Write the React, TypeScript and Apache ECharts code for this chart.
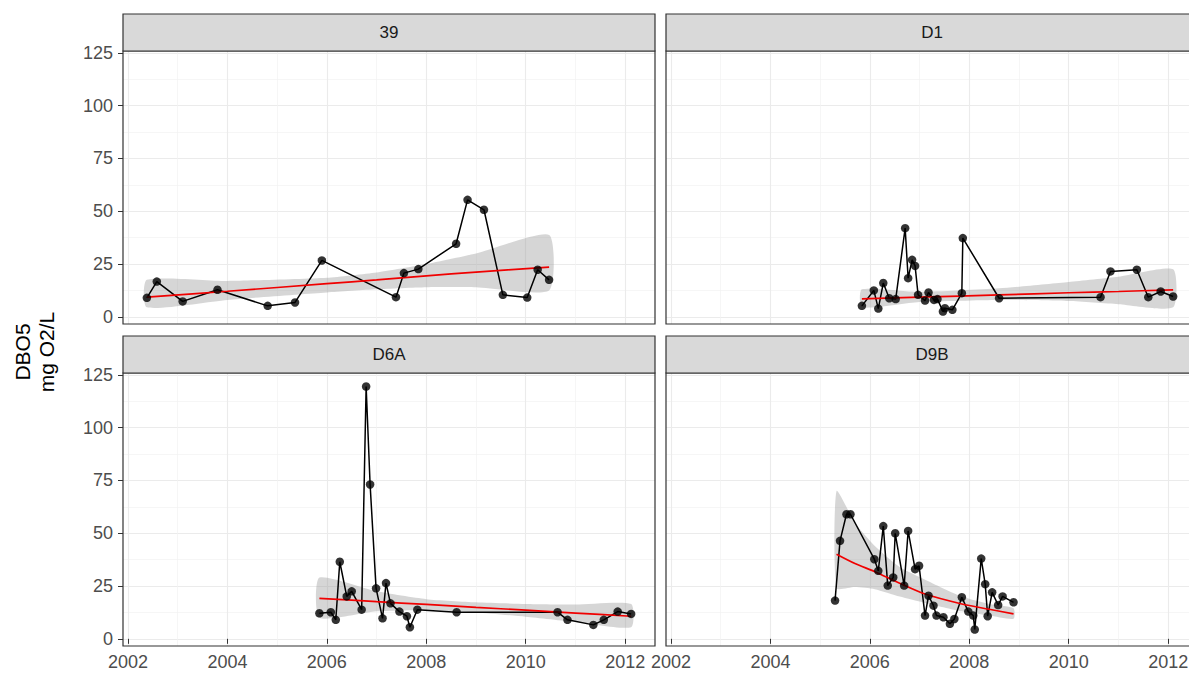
import React, { useEffect, useRef } from "react";
import * as echarts from "echarts";

// Facet titles (sampling stations)
const stations = ["39", "D1", "D6A", "D9B"];
const yearTicks = [2002, 2004, 2006, 2008, 2010, 2012];
const dboTicks = [0, 25, 50, 75, 100, 125];

// Station 39: observations (decimal year, DBO5 mg O2/L)
const year39 = [2002.38, 2002.58, 2003.1, 2003.8, 2004.81, 2005.36, 2005.9, 2007.39, 2007.55, 2007.84, 2008.6, 2008.83, 2009.16, 2009.54, 2010.03, 2010.24, 2010.47];
const dbo39 = [9, 16.7, 7.3, 12.8, 5.2, 6.8, 26.7, 9.3, 20.7, 22.6, 34.6, 55.4, 50.7, 10.4, 9.1, 22.3, 17.5];

// Station D1
const yearD1 = [2005.84, 2006.08, 2006.17, 2006.27, 2006.39, 2006.52, 2006.71, 2006.77, 2006.85, 2006.91, 2006.97, 2007.11, 2007.18, 2007.29, 2007.36, 2007.47, 2007.51, 2007.66, 2007.85, 2007.87, 2008.6, 2010.64, 2010.84, 2011.37, 2011.6, 2011.85, 2012.1];
const dboD1 = [5.2, 12.5, 3.9, 16, 8.8, 8.4, 42, 18.3, 27, 24.1, 10.4, 7.7, 11.5, 8, 8.4, 2.5, 4.1, 3.3, 11.2, 37.3, 8.8, 9.3, 21.5, 22.3, 9.3, 12, 9.6];

// Station D6A
const yearD6A = [2005.85, 2006.08, 2006.18, 2006.26, 2006.4, 2006.5, 2006.7, 2006.79, 2006.87, 2006.99, 2007.12, 2007.19, 2007.28, 2007.46, 2007.61, 2007.67, 2007.82, 2008.61, 2010.64, 2010.84, 2011.36, 2011.57, 2011.85, 2012.12];
const dboD6A = [12.1, 12.6, 9, 36.5, 20.1, 22.5, 13.8, 119.5, 73.1, 23.9, 9.7, 26.4, 16.8, 12.9, 10.7, 5.5, 13.8, 12.6, 12.6, 9, 6.6, 9, 12.9, 11.8];

// Station D9B
const yearD9B = [2005.3, 2005.4, 2005.53, 2005.61, 2006.09, 2006.17, 2006.27, 2006.36, 2006.47, 2006.51, 2006.69, 2006.77, 2006.91, 2006.99, 2007.11, 2007.18, 2007.28, 2007.34, 2007.48, 2007.61, 2007.7, 2007.85, 2007.98, 2008.08, 2008.11, 2008.24, 2008.32, 2008.37, 2008.46, 2008.58, 2008.67, 2008.89];
const dboD9B = [18.1, 46.4, 59, 59, 37.7, 32.2, 53.4, 25.2, 29.1, 50, 25.2, 51.1, 33, 34.6, 11, 20.4, 15.7, 11, 10.2, 7.1, 9.4, 19.7, 12.9, 11, 4.4, 38, 25.9, 10.7, 22, 16, 20.1, 17.3];

// Fitted trend with confidence band, per station
const trendYear39 = [2002.38, 2004, 2006, 2007, 2008, 2009, 2010.47];
const trendFit39 = [9.3, 12.1, 15.7, 17.5, 19.4, 21.2, 23.5];
const trendLo39 = [4.5, 8, 11.5, 13, 14, 14, 12.5];
const trendHi39 = [17.5, 17, 18.5, 21, 25, 30, 38.8];

const trendYearD1 = [2005.84, 2007, 2008.6, 2010, 2011, 2012.1];
const trendFitD1 = [8.5, 9.3, 10.4, 11.4, 12.0, 12.8];
const trendLoD1 = [4.5, 7, 8, 7.5, 6, 4.5];
const trendHiD1 = [13, 11.8, 13.5, 16.5, 19, 22.5];

const trendYearD6A = [2005.85, 2007, 2008, 2009, 2010, 2011, 2012.12];
const trendFitD6A = [19.2, 17.6, 16.3, 14.9, 13.6, 12.2, 10.7];
const trendLoD6A = [10, 13, 13.7, 12.5, 10.5, 8, 5.5];
const trendHiD6A = [29, 22.5, 18.8, 17.3, 16.5, 16.2, 16.5];

const trendYearD9B = [2005.33, 2005.7, 2006.1, 2006.6, 2007.11, 2007.85, 2008.4, 2008.89];
const trendFitD9B = [40.1, 35.7, 31.8, 26.3, 21.2, 16.5, 14.0, 11.8];
const trendLoD9B = [24, 24.5, 23.5, 20, 17, 13, 11, 9.5];
const trendHiD9B = [70, 55, 44, 34, 28, 20, 16.5, 14.5];

const obsYears = [year39, yearD1, yearD6A, yearD9B];
const obsValues = [dbo39, dboD1, dboD6A, dboD9B];
const trendYears = [trendYear39, trendYearD1, trendYearD6A, trendYearD9B];
const trendFits = [trendFit39, trendFitD1, trendFitD6A, trendFitD9B];
const trendLows = [trendLo39, trendLoD1, trendLoD6A, trendLoD9B];
const trendHighs = [trendHi39, trendHiD1, trendHiD6A, trendHiD9B];

const X_MIN = 2001.9;
const X_MAX = 2012.6;
const Y_MIN = -3.4;
const Y_MAX = 125.9;

const FONT = "'Liberation Sans', Arial, sans-serif";
const CHART_W = 1230;
const CHART_H = 675;
const PANEL_W = 532;
const PANEL_H = 273;
const STRIP_H = 37;
const panelBoxes = [
  { left: 123, top: 51 },
  { left: 666, top: 51 },
  { left: 123, top: 373 },
  { left: 666, top: 373 },
];

const zip = (xs: number[], ys: number[]) => xs.map((x, i) => [x, ys[i]]);

function buildOption() {
  const grid: any[] = [];
  const xAxis: any[] = [];
  const yAxis: any[] = [];
  const series: any[] = [];
  const graphic: any[] = [];

  stations.forEach((name, p) => {
    const box = panelBoxes[p];
    const isLeft = p % 2 === 0;
    const isBottom = p >= 2;

    grid.push({
      left: box.left,
      top: box.top,
      width: PANEL_W,
      height: PANEL_H,
      containLabel: false,
      outerBoundsMode: "none",
      show: true,
      backgroundColor: "#FFFFFF",
      borderWidth: 0,
    });

    xAxis.push({
      type: "value",
      gridIndex: p,
      min: X_MIN,
      max: X_MAX,
      minInterval: 2,
      maxInterval: 2,
      splitNumber: 5,
      axisLine: { show: false },
      axisTick: {
        show: isBottom,
        customValues: yearTicks,
        length: 5,
        lineStyle: { color: "#333333", width: 1 },
      },
      axisLabel: {
        show: isBottom,
        customValues: yearTicks,
        margin: 7,
        color: "#4D4D4D",
        fontSize: 18,
        fontFamily: FONT,
        formatter: (v: number) => String(Math.round(v)),
      },
      splitLine: { show: true, lineStyle: { color: "#EBEBEB", width: 1.1 } },
      minorTick: { show: false, splitNumber: 2 },
      minorSplitLine: { show: true, lineStyle: { color: "#F2F2F2", width: 0.7 } },
    });

    yAxis.push({
      type: "value",
      gridIndex: p,
      min: Y_MIN,
      max: Y_MAX,
      minInterval: 25,
      maxInterval: 25,
      splitNumber: 5,
      axisLine: { show: false },
      axisTick: {
        show: isLeft,
        customValues: dboTicks,
        length: 5,
        lineStyle: { color: "#333333", width: 1 },
      },
      axisLabel: {
        show: isLeft,
        customValues: dboTicks,
        margin: 10,
        color: "#4D4D4D",
        fontSize: 18,
        fontFamily: FONT,
      },
      splitLine: { show: true, lineStyle: { color: "#EBEBEB", width: 1.1 } },
      minorTick: { show: false, splitNumber: 2 },
      minorSplitLine: { show: true, lineStyle: { color: "#F2F2F2", width: 0.7 } },
    });

    const tx = trendYears[p];
    const lo = trendLows[p];
    const hi = trendHighs[p];

    // confidence band of the trend
    series.push({
      type: "custom",
      xAxisIndex: p,
      yAxisIndex: p,
      silent: true,
      z: 1,
      data: [[tx[0], lo[0]]],
      renderItem: (_params: any, api: any) => {
        const pts: number[][] = [];
        for (let i = 0; i < tx.length; i++) pts.push(api.coord([tx[i], hi[i]]));
        for (let i = tx.length - 1; i >= 0; i--) pts.push(api.coord([tx[i], lo[i]]));
        return {
          type: "polygon",
          shape: { points: pts, smooth: 0.2 },
          style: { fill: "rgba(153,153,153,0.4)" },
        };
      },
    });

    const obs = zip(obsYears[p], obsValues[p]);

    // observed series joined by a line
    series.push({
      type: "line",
      xAxisIndex: p,
      yAxisIndex: p,
      data: obs,
      showSymbol: false,
      symbol: "none",
      lineStyle: { color: "#000000", width: 1.5 },
      silent: true,
      z: 2,
    });

    // fitted trend
    series.push({
      type: "line",
      xAxisIndex: p,
      yAxisIndex: p,
      data: zip(tx, trendFits[p]),
      smooth: 0.3,
      showSymbol: false,
      symbol: "none",
      lineStyle: { color: "#F00000", width: 1.7 },
      silent: true,
      z: 3,
    });

    // observation points
    series.push({
      type: "scatter",
      xAxisIndex: p,
      yAxisIndex: p,
      data: obs,
      symbol: "circle",
      symbolSize: 8.5,
      itemStyle: { color: "#000000" },
      silent: true,
      z: 4,
    });

    // panel border
    graphic.push({
      type: "rect",
      z: 100,
      silent: true,
      shape: { x: box.left, y: box.top, width: PANEL_W, height: PANEL_H },
      style: { fill: "none", stroke: "#333333", lineWidth: 1.2 },
    });

    // facet strip
    graphic.push({
      type: "rect",
      z: 100,
      silent: true,
      shape: { x: box.left, y: box.top - STRIP_H, width: PANEL_W, height: STRIP_H },
      style: { fill: "#D9D9D9", stroke: "#333333", lineWidth: 1.2 },
    });
    graphic.push({
      type: "text",
      z: 101,
      silent: true,
      x: box.left + PANEL_W / 2,
      y: box.top - STRIP_H / 2,
      style: {
        text: name,
        fill: "#1A1A1A",
        font: `17px ${FONT}`,
        align: "center",
        verticalAlign: "middle",
      },
    });
  });

  // y-axis title
  graphic.push({
    type: "text",
    z: 101,
    silent: true,
    x: 34,
    y: 352,
    rotation: Math.PI / 2,
    style: {
      text: "DBO5\nmg O2/L",
      fill: "#000000",
      font: `21px ${FONT}`,
      lineHeight: 24,
      align: "center",
      verticalAlign: "middle",
    },
  });

  return {
    animation: false,
    backgroundColor: "#FFFFFF",
    grid,
    xAxis,
    yAxis,
    series,
    graphic,
  };
}

export default function App() {
  const ref = useRef<HTMLDivElement>(null);

  useEffect(() => {
    if (!ref.current) return;
    const chart = echarts.init(ref.current, undefined, { renderer: "svg" });
    chart.setOption(buildOption() as any);
    return () => chart.dispose();
  }, []);

  return (
    <div style={{ position: "fixed", left: 0, top: 0, width: 1189, height: CHART_H, overflow: "hidden" }}>
      <div ref={ref} style={{ width: CHART_W, height: CHART_H }} />
    </div>
  );
}
